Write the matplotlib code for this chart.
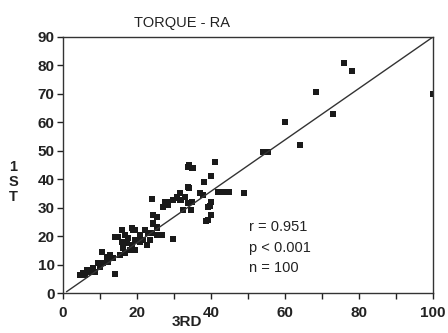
import numpy as np
import matplotlib.pyplot as plt

plt.rcParams['font.family'] = ['Liberation Sans', 'DejaVu Sans']

# 3RD (x) vs 1ST (y) torque readings
third = [76, 78, 68.5, 73, 60, 64, 54, 55.5, 100,
         34, 35, 41, 40, 38, 34, 24, 37, 42, 43.5, 45, 49, 31.6, 30.7, 32, 33,
         33.9, 34.8, 40, 39.7, 32.5, 34.7, 39.3, 40, 39.3, 38.6, 28, 27.1, 28,
         24.4, 25.3, 24.4, 25.3, 25.8, 26.7, 22.2, 23, 20.8, 29.6, 18.8, 19.5,
         15.9, 18.6, 19.5, 14.1, 14.9, 16.8, 17.7, 15.9, 17.2, 18.6, 16.3, 18.1,
         19.5, 20.8, 20.8, 21.7, 22.6, 24.4, 24, 25.3, 25.3, 23.5,
         10.5, 11.8, 12.7, 13.6, 12.3, 10.9, 9.5, 10, 8.2, 8.6, 7.3, 6.4, 5.5,
         4.6, 5.9, 14, 16.8, 15.4, 26.2, 37.9, 33.9, 29.8, 30.7, 31.6, 28.5,
         27.6, 35.2, 33.9]
first = [81, 78, 70.5, 63, 60, 52, 49.5, 49.5, 70,
         45, 44, 46, 41, 39, 37, 33, 35, 35.5, 35.5, 35.5, 35, 35, 33.3, 32.7, 33.9,
         31.5, 32.1, 31.9, 30.6, 29.2, 29.2, 30.1, 27.4, 25.7, 25.4, 32.1, 30.3, 31.3,
         27.4, 26.8, 24.3, 23.1, 20.4, 20.4, 22.2, 21.2, 19.6, 18.9, 22.2, 18.6,
         22.2, 22.7, 22.2, 19.6, 19.8, 20.4, 19.2, 18, 17.5, 16.9, 15.7, 15.1,
         15.1, 18, 20.4, 18.6, 16.9, 24.5, 21, 20.4, 23, 18.6,
         14.3, 12.8, 13.4, 12.2, 11, 10.4, 10.4, 9.2, 8.7, 7.5, 7.5, 8.1, 6.9,
         6.3, 6.3, 6.6, 14, 13.4, 20.4, 34.5, 44.4, 32.7, 33.9, 32.7, 31,
         32.1, 43.8, 37.4]

line_x = [1, 100]
line_y = [0.5, 90]

stats = ['r = 0.951', 'p < 0.001', 'n = 100']

fig = plt.figure(figsize=(4.48, 3.33), dpi=100)
ax = fig.add_axes([0.1406, 0.120, 0.8259, 0.769])

ax.plot(third, first, 's', color='#1a1a1a', markersize=4.3, markeredgewidth=0)
ax.plot(line_x, line_y, color='#333333', linewidth=1.0)

ax.set_xlim(0, 100)
ax.set_ylim(0, 90)
ax.set_xticks(np.arange(0, 101, 20))
ax.set_xticks(np.arange(10, 100, 20), minor=True)
ax.set_yticks(np.arange(0, 91, 10))
ax.tick_params(which='both', direction='out', length=4, width=1, labelsize=11,
               color='#222222')
ax.tick_params(axis='x', pad=5)
ax.tick_params(axis='y', pad=2)
for lab in ax.get_xticklabels() + ax.get_yticklabels():
    lab.set_fontweight('bold')
    lab.set_color('#222222')
for s in ax.spines.values():
    s.set_linewidth(1.0)
    s.set_color('#333333')

for i, t in enumerate(stats):
    ax.text(50.3, 23.2 - i * 7.2, t, fontsize=10.5, color='#222222',
            va='center', ha='left')

fig.text(182 / 448, 1 - 23 / 333, 'TORQUE - RA', fontsize=10.5, ha='center',
         va='center', color='#222222')
fig.text(187 / 448, 1 - 322 / 333, '3RD', fontsize=11, fontweight='bold',
         ha='center', va='center', color='#222222')
fig.text(13 / 448, 1 - 182 / 333, '1\nS\nT', fontsize=10.5, fontweight='bold',
         ha='center', va='center', color='#222222', linespacing=1.05)

fig.savefig('out.png', dpi=100)
